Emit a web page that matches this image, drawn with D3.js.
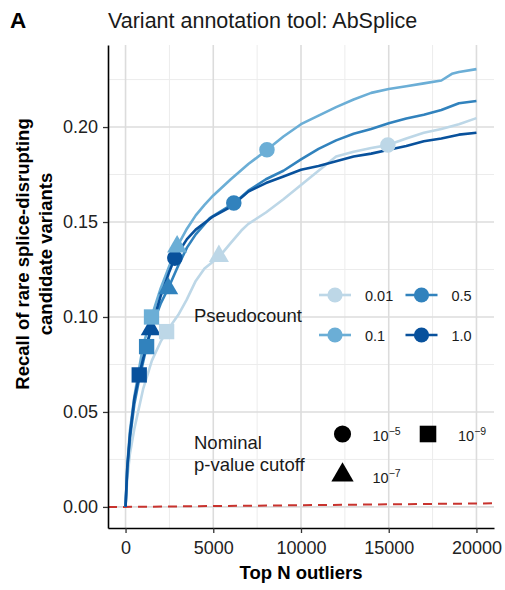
<!DOCTYPE html>
<html><head><meta charset="utf-8">
<script src="https://cdn.jsdelivr.net/npm/d3@7"></script>
<style>
body{margin:0;background:#fff}
svg{display:block}
text{font-family:"Liberation Sans",Arial,Helvetica,sans-serif}
</style>
</head><body>
<svg id="chart" width="505" height="590"></svg>
<script>
// ---------------- data ----------------
const pseudocounts = ["0.01", "0.1", "0.5", "1.0"];
const seriesColors = ["#bdd7e7", "#6baed6", "#3182bd", "#08519c"];

const topN_p001 = [0, 100, 250, 500, 1000, 1500, 2000, 2340, 3000, 3480, 4000, 4500, 5370, 6000, 6600, 7000, 8000, 9000, 10000, 11000, 12000, 13000, 14000, 14950, 16000, 17000, 18000, 19000, 20000];
const recall_p001 = [0, 0.015, 0.028, 0.041, 0.062, 0.077, 0.087, 0.0923, 0.101, 0.109, 0.119, 0.1255, 0.132, 0.139, 0.1455, 0.149, 0.155, 0.162, 0.1695, 0.177, 0.1845, 0.187, 0.189, 0.1905, 0.194, 0.197, 0.199, 0.2015, 0.2047];

const topN_p01 = [0, 100, 250, 500, 1000, 1480, 2000, 2500, 2940, 3500, 4000, 4500, 5000, 6000, 7000, 8060, 9000, 10000, 11000, 12000, 13000, 14000, 15000, 16000, 17000, 18000, 18600, 19000, 20000];
const recall_p01 = [0, 0.022, 0.040, 0.058, 0.085, 0.100, 0.115, 0.127, 0.137, 0.1465, 0.1535, 0.159, 0.164, 0.1725, 0.1805, 0.188, 0.195, 0.2015, 0.206, 0.2105, 0.2145, 0.218, 0.220, 0.2215, 0.223, 0.2245, 0.228, 0.229, 0.2305];

const topN_p05 = [0, 100, 250, 500, 750, 1200, 1500, 2000, 2430, 3000, 3500, 4000, 4800, 6170, 7000, 8000, 9000, 10000, 11000, 12000, 13000, 14000, 15000, 16000, 17000, 18000, 19000, 20000];
const recall_p05 = [0, 0.020, 0.036, 0.054, 0.066, 0.0844, 0.095, 0.107, 0.115, 0.127, 0.1365, 0.1435, 0.152, 0.1598, 0.1665, 0.1725, 0.177, 0.183, 0.1885, 0.193, 0.1965, 0.199, 0.202, 0.2045, 0.2065, 0.209, 0.2125, 0.2137];

const topN_p1 = [0, 100, 250, 500, 780, 1000, 1440, 2000, 2500, 2810, 3500, 4000, 5000, 6000, 7000, 8000, 9000, 10000, 11000, 12000, 13000, 14000, 15000, 16000, 17000, 18000, 19000, 20000];
const recall_p1 = [0, 0.021, 0.038, 0.057, 0.0695, 0.078, 0.0935, 0.111, 0.124, 0.131, 0.141, 0.146, 0.153, 0.158, 0.166, 0.1705, 0.174, 0.1775, 0.1795, 0.182, 0.1845, 0.186, 0.188, 0.190, 0.1925, 0.194, 0.196, 0.197];

// markers at nominal p-value cutoffs
const cutoffLabels = ["5", "7", "9"]; // 10^-5, 10^-7, 10^-9
const markerPseudocount = ["0.01", "0.1", "0.5", "1.0", "0.01", "0.1", "0.5", "1.0", "0.01", "0.1", "0.5", "1.0"];
const markerCutoff = ["5", "5", "5", "5", "7", "7", "7", "7", "9", "9", "9", "9"];
const markerN = [14950, 8060, 6170, 2810, 5320, 2940, 2430, 1440, 2340, 1480, 1200, 780];
const markerRecall = [0.1905, 0.188, 0.160, 0.131, 0.132, 0.137, 0.115, 0.0935, 0.0923, 0.100, 0.0844, 0.0695];

// random expectation (dashed red line)
const baselineN = [-1000, 21000];
const baselineRecall = [-0.00009, 0.00189];

const xTicks = [0, 5000, 10000, 15000, 20000];
const xMinor = [2500, 7500, 12500, 17500];
const yTicks = [0, 0.05, 0.10, 0.15, 0.20];
const yMinor = [0.025, 0.075, 0.125, 0.175, 0.225];

// ---------------- chart ----------------
const svg = d3.select("#chart");
const L = 108, R = 494, T = 45, B = 528;
const x = d3.scaleLinear().domain([-1000, 21000]).range([L, R]);
const y = d3.scaleLinear().domain([-0.0111, 0.2432]).range([B, T]);
const color = d3.scaleOrdinal().domain(pseudocounts).range(seriesColors);
const shape = d3.scaleOrdinal().domain(cutoffLabels).range([d3.symbolCircle, d3.symbolTriangle, d3.symbolSquare]);
const shapeSize = {"5": 190, "7": 175, "9": 235};

// grid
const grid = svg.append("g");
grid.selectAll(".ymin").data(yMinor).join("line")
  .attr("x1", L).attr("x2", R).attr("y1", d => y(d)).attr("y2", d => y(d))
  .attr("stroke", "#ececec").attr("stroke-width", 1);
grid.selectAll(".xmin").data(xMinor).join("line")
  .attr("y1", T).attr("y2", B).attr("x1", d => x(d)).attr("x2", d => x(d))
  .attr("stroke", "#ececec").attr("stroke-width", 1);
grid.selectAll(".ymaj").data(yTicks).join("line")
  .attr("x1", L).attr("x2", R).attr("y1", d => y(d)).attr("y2", d => y(d))
  .attr("stroke", "#dcdcdc").attr("stroke-width", 1.6);
grid.selectAll(".xmaj").data(xTicks).join("line")
  .attr("y1", T).attr("y2", B).attr("x1", d => x(d)).attr("x2", d => x(d))
  .attr("stroke", "#dcdcdc").attr("stroke-width", 1.6);

// baseline
svg.append("path")
  .datum(baselineN.map((n, i) => [n, baselineRecall[i]]))
  .attr("d", d3.line().x(d => x(d[0])).y(d => y(d[1])))
  .attr("fill", "none").attr("stroke", "#c8332e").attr("stroke-width", 2)
  .attr("stroke-dasharray", "9,6");

// curves
const seriesData = [
  [topN_p001, recall_p001],
  [topN_p01, recall_p01],
  [topN_p05, recall_p05],
  [topN_p1, recall_p1]
];
const line = d3.line().x(d => x(d[0])).y(d => y(d[1]));
seriesData.forEach((s, i) => {
  svg.append("path")
    .datum(s[0].map((n, j) => [n, s[1][j]]))
    .attr("d", line)
    .attr("fill", "none")
    .attr("stroke", color(pseudocounts[i]))
    .attr("stroke-width", 2.6)
    .attr("stroke-linejoin", "round");
});

// markers
const markers = markerN.map((n, i) => ({n, r: markerRecall[i], p: markerPseudocount[i], c: markerCutoff[i]}));
svg.append("g").selectAll("path").data(markers).join("path")
  .attr("transform", d => `translate(${x(d.n)},${y(d.r)})`)
  .attr("d", d => d3.symbol().type(shape(d.c)).size(shapeSize[d.c])())
  .attr("fill", d => color(d.p));

// axes
const yAxis = svg.append("g").attr("transform", `translate(${L},0)`)
  .call(d3.axisLeft(y).tickValues(yTicks).tickFormat(d3.format(".2f")).tickSize(5).tickSizeOuter(0).tickPadding(5));
const xAxis = svg.append("g").attr("transform", `translate(0,${B})`)
  .call(d3.axisBottom(x).tickValues(xTicks).tickFormat(d3.format("d")).tickSize(5).tickSizeOuter(0).tickPadding(8));
[yAxis, xAxis].forEach(a => {
  a.select(".domain").attr("stroke", "#000").attr("stroke-width", 1.6);
  a.selectAll(".tick line").attr("stroke", "#333").attr("stroke-width", 1.3);
  a.selectAll(".tick text").attr("font-size", 18).attr("fill", "#222")
    .attr("font-family", '"Liberation Sans",Arial,sans-serif');
});

// titles
svg.append("text").attr("x", 10).attr("y", 28).attr("font-size", 22.5).attr("font-weight", "bold")
  .attr("fill", "#000").text("A");
svg.append("text").attr("x", L).attr("y", 28).attr("font-size", 21.5).attr("fill", "#1a1a1a")
  .text("Variant annotation tool: AbSplice");
svg.append("text").attr("x", (L + R) / 2).attr("y", 579).attr("text-anchor", "middle")
  .attr("font-size", 18.5).attr("font-weight", "bold").attr("fill", "#000").text("Top N outliers");
const yt = svg.append("text").attr("transform", "translate(0,254) rotate(-90)")
  .attr("text-anchor", "middle").attr("font-size", 18.5).attr("font-weight", "bold").attr("fill", "#000");
yt.append("tspan").attr("x", 0).attr("y", 29).text("Recall of rare splice-disrupting");
yt.append("tspan").attr("x", 0).attr("y", 52).text("candidate variants");

// legend: pseudocount
svg.append("text").attr("x", 194).attr("y", 322).attr("font-size", 18.5).attr("fill", "#1a1a1a").text("Pseudocount");
const keyX = [335, 335, 421.5, 421.5];
const keyY = [295, 335, 295, 335];
const lg = svg.append("g").selectAll("g").data(pseudocounts).join("g")
  .attr("transform", (d, i) => `translate(${keyX[i]},${keyY[i]})`);
lg.append("line").attr("x1", -16).attr("x2", 16).attr("stroke", d => color(d)).attr("stroke-width", 2.6);
lg.append("circle").attr("r", 7.6).attr("fill", d => color(d));
lg.append("text").attr("x", 30).attr("y", 5.5).attr("font-size", 14.5).attr("fill", "#1a1a1a").text(d => d);

// legend: p-value cutoff
svg.append("text").attr("x", 194).attr("y", 449).attr("font-size", 18.5).attr("fill", "#1a1a1a").text("Nominal");
svg.append("text").attr("x", 194).attr("y", 471).attr("font-size", 18.5).attr("fill", "#1a1a1a").text("p-value cutoff");
const sX = {"5": 342.5, "7": 342.5, "9": 428};
const sY = {"5": 434, "7": 475, "9": 434};
const sg = svg.append("g").selectAll("g").data(cutoffLabels).join("g")
  .attr("transform", d => `translate(${sX[d]},${sY[d]})`);
sg.append("path").attr("d", d => d3.symbol().type(shape(d)).size(shapeSize[d] + 40)()).attr("fill", "#000");
const st = sg.append("text").attr("x", 30).attr("y", d => d === "7" ? 8 : 7).attr("font-size", 14.5).attr("fill", "#1a1a1a");
st.append("tspan").text("10");
st.append("tspan").attr("font-size", 10.5).attr("dy", -6).text(d => "\u2212" + d);
</script>
</body></html>
